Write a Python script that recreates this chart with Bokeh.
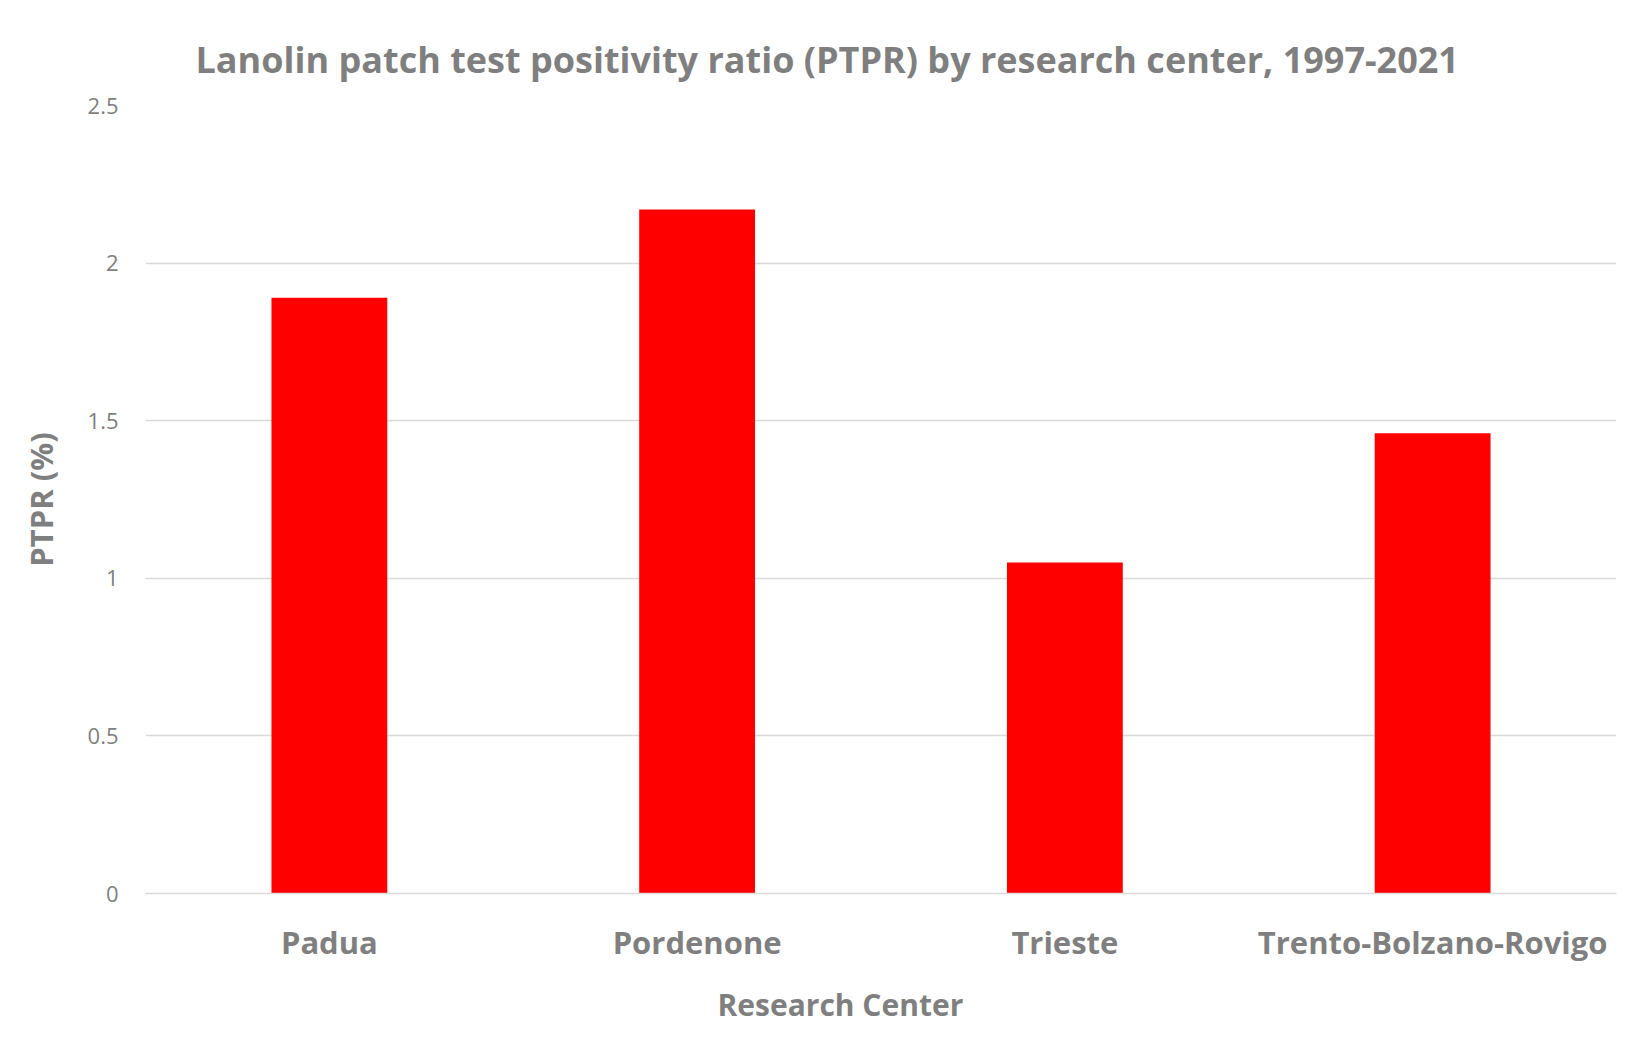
from bokeh.plotting import figure
from bokeh.models import Range1d, FactorRange, Title
from bokeh.embed import file_html
from bokeh.resources import INLINE

centers = ["Padua", "Pordenone", "Trieste", "Trento-Bolzano-Rovigo"]
ptpr = [1.89, 2.17, 1.05, 1.46]
y_ticks = [0, 0.5, 1, 1.5, 2, 2.5]
title_text = "Lanolin patch test positivity ratio (PTPR)  by research center, 1997-2021"
x_label = "Research Center"
y_label = "PTPR (%)"

FONT = "Open Sans"
GRAY = "#7f7f7f"

p = figure(width=1637, height=1040, x_range=FactorRange(*centers),
           y_range=Range1d(0, 2.5), output_backend="svg", toolbar_location=None,
           min_border_left=145, min_border_right=21, min_border_top=105,
           min_border_bottom=147)

p.vbar(x=centers, top=ptpr, width=0.315, fill_color="#ff0000", line_color=None)

p.title.text = title_text
p.title.text_font = FONT
p.title.text_font_size = "36px"
p.title.text_color = GRAY
p.title.align = "left"
p.title.offset = 50
p.title.standoff = 44

p.outline_line_color = None
p.xgrid.grid_line_color = None
p.ygrid.grid_line_color = "#d9d9d9"
p.ygrid.grid_line_width = 1.5
p.yaxis.ticker = y_ticks
p.yaxis.axis_line_color = None
p.yaxis.major_tick_line_color = None
p.yaxis.minor_tick_line_color = None
p.yaxis.major_label_text_font = FONT
p.yaxis.major_label_text_font_size = "22px"
p.yaxis.major_label_text_color = GRAY
p.yaxis.major_label_standoff = 21
p.yaxis.axis_label = y_label
p.yaxis.axis_label_text_font = FONT
p.yaxis.axis_label_text_font_size = "31px"
p.yaxis.axis_label_text_font_style = "bold"
p.yaxis.axis_label_text_color = GRAY
p.yaxis.axis_label_standoff = 23

p.xaxis.axis_line_color = "#d9d9d9"
p.xaxis.axis_line_width = 1.5
p.xaxis.major_tick_line_color = None
p.xaxis.minor_tick_line_color = None
p.xaxis.major_label_text_font = FONT
p.xaxis.major_label_text_font_size = "31px"
p.xaxis.major_label_text_font_style = "bold"
p.xaxis.major_label_text_color = GRAY
p.xaxis.major_label_standoff = 21

xt = Title(text=x_label, align="left", offset=572, text_font=FONT,
           text_font_size="30px", text_font_style="bold", text_color=GRAY,
           standoff=32)
p.add_layout(xt, "below")

open("out.html", "w").write(file_html(p, INLINE))
